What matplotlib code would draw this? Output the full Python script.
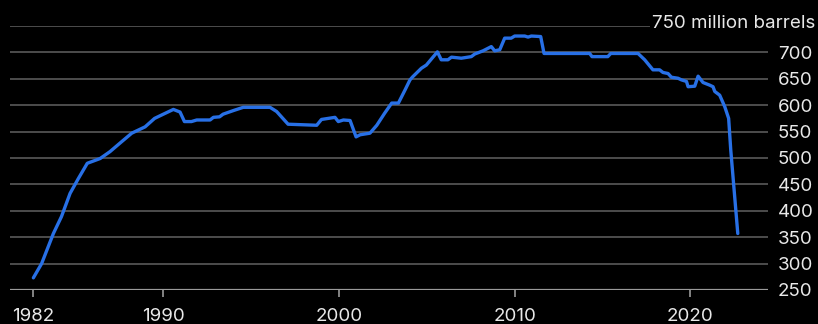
import matplotlib
matplotlib.use("Agg")
import matplotlib.pyplot as plt

years = [1982.6, 1983.07, 1983.74, 1984.2, 1984.69, 1985.16, 1985.67, 1986.4, 1986.96, 1987.63,
         1988.2, 1988.96, 1989.5, 1990.0, 1990.57, 1990.95, 1991.2, 1991.6, 1991.9, 1992.66,
         1992.85, 1993.2, 1993.4, 1994.0, 1994.55, 1996.07, 1996.45, 1997.1, 1998.73, 1999.0,
         1999.77, 1999.96, 2000.25, 2000.63, 2000.97, 2001.2, 2001.76, 2002.15, 2002.6, 2003.0,
         2003.38, 2003.76, 2004.04, 2004.2, 2004.69, 2004.97, 2005.6, 2005.82, 2006.2, 2006.4,
         2006.96, 2007.53, 2007.73, 2008.2, 2008.67, 2008.86, 2009.15, 2009.43, 2009.8, 2010.0,
         2010.57, 2010.76, 2010.95, 2011.48, 2011.67, 2014.27, 2014.4, 2015.3, 2015.47, 2017.02,
         2017.4, 2017.87, 2018.25, 2018.44, 2018.73, 2018.92, 2019.3, 2019.49, 2019.78, 2019.87,
         2020.25, 2020.44, 2020.72, 2021.1, 2021.29, 2021.39, 2021.67, 2021.96, 2022.18, 2022.3,
         2022.7]
barrels = [273, 300, 357, 389, 433, 461, 490, 499, 512, 531,
           547, 559, 575, 583, 592, 587, 569, 569, 572, 572,
           577, 578, 583, 590, 596, 596, 588, 564, 562, 573,
           577, 569, 572, 571, 540, 544, 547, 562, 585, 604,
           604, 629, 648, 654, 670, 676, 701, 686, 686, 691,
           689, 692, 697, 703, 711, 703, 705, 727, 727, 731,
           731, 729, 731, 730, 698, 698, 692, 692, 698, 698,
           686, 667, 667, 662, 660, 653, 651, 648, 645, 635,
           636, 655, 643, 638, 635, 626, 619, 597, 575, 515,
           357]

xtick_pos = [1982.6, 1990, 2000, 2010, 2020]
xtick_labels = ["1982", "1990", "2000", "2010", "2020"]
ytick_vals = [250, 300, 350, 400, 450, 500, 550, 600, 650, 700]
top_label = "750 million barrels"

plt.rcParams['font.family'] = ['Inter', 'DejaVu Sans']

W, H = 818, 324
fig = plt.figure(figsize=(W / 100, H / 100), dpi=100, facecolor='black')
ax = fig.add_axes([10 / W, 1 - 290 / H, (768 - 10) / W, (290 - 26) / H], facecolor='black')

ax.set_xlim(1981.27, 2024.42)
ax.set_ylim(250, 750)

for v in ytick_vals[1:] + [750]:
    ax.axhline(v, color='#5a5a5a', lw=1.2, zorder=1)
ax.axhline(250, color='#9a9a9a', lw=1.6, zorder=1)

ax.plot(years, barrels, color='#2870e6', lw=2.4, solid_capstyle='round',
        solid_joinstyle='round', zorder=3)

for s in ax.spines.values():
    s.set_visible(False)

ax.yaxis.tick_right()
ax.set_yticks(ytick_vals)
ax.set_yticklabels([str(v) for v in ytick_vals])
ax.tick_params(axis='y', length=0, pad=7, labelsize=13.5, labelcolor='#e8e8e8')

ax.set_xticks(xtick_pos)
ax.set_xticklabels(xtick_labels)
ax.tick_params(axis='x', length=5, width=1.2, color='#9a9a9a', pad=8,
               labelsize=13.5, labelcolor='#e8e8e8')

fig.text(815 / W, 1 - 24 / H, top_label, ha='right', va='center', fontsize=13.5,
         color='#e8e8e8',
         bbox=dict(facecolor='black', edgecolor='none', pad=1.5))

fig.savefig("out.png", dpi=100, facecolor='black')
